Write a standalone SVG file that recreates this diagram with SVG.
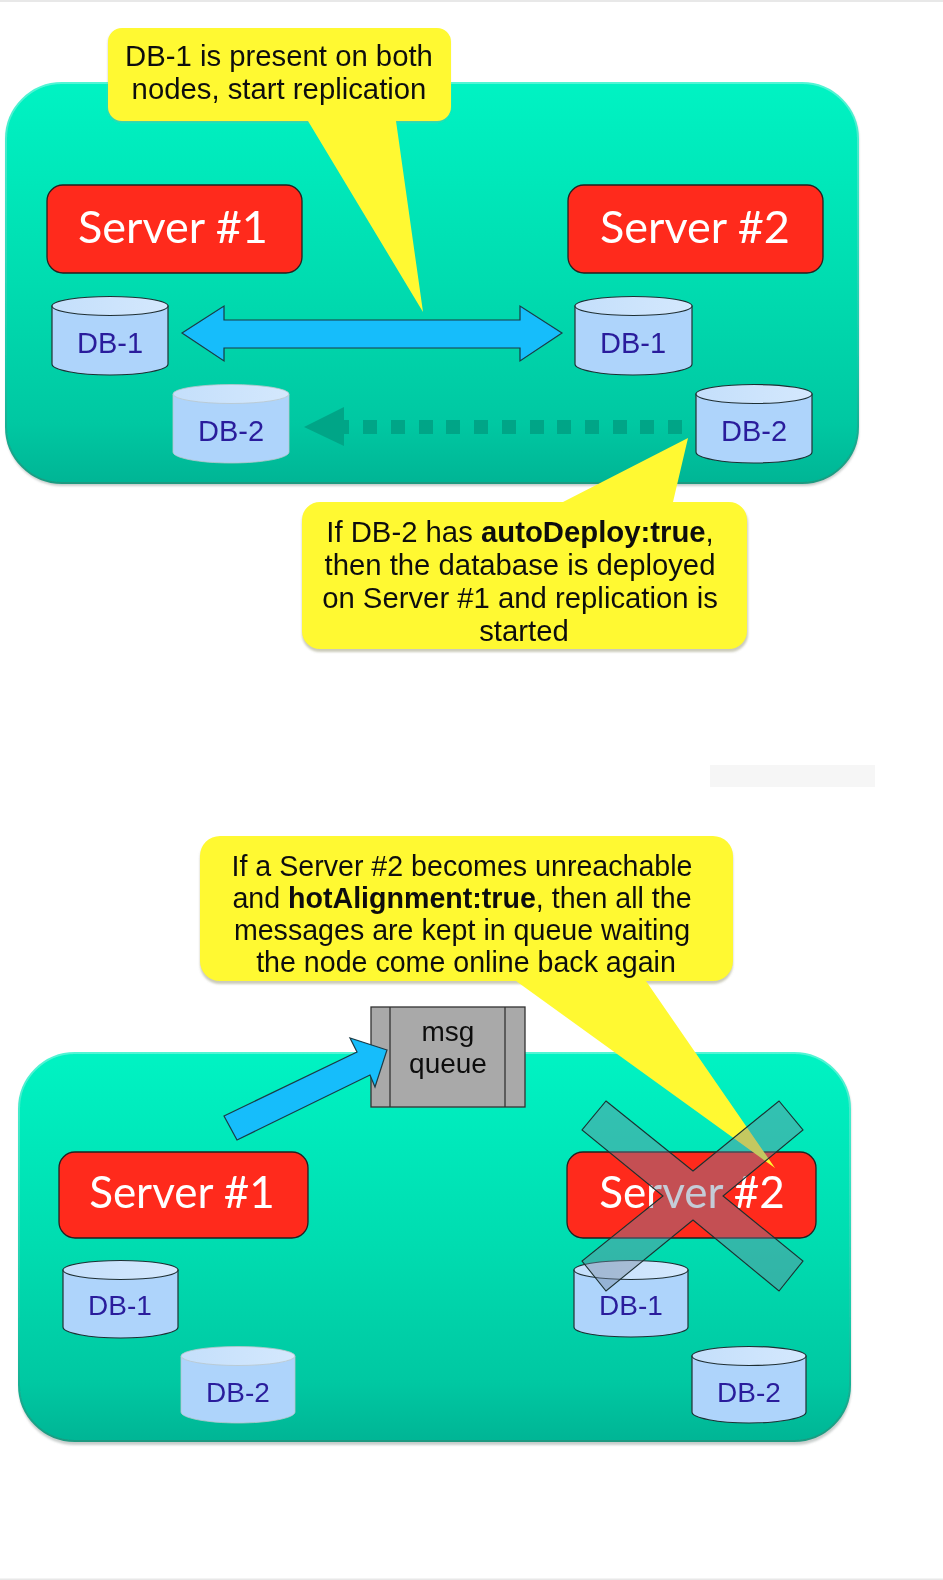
<svg xmlns="http://www.w3.org/2000/svg" width="943" height="1580" viewBox="0 0 943 1580">
<style>
.panel{fill:url(#panelGrad);stroke:url(#edgeGrad);stroke-width:2}
.panelshadow{fill:#9aa5a2;opacity:.55}
.server{fill:#ff2a1a;stroke:#222;stroke-width:1.3}
.servertext{font-family:"Lato","Open Sans",sans-serif;fill:#fff;text-anchor:middle}
.st{font-size:45px}
.sb{font-size:44px}
.cyl{fill:#aed4fb;stroke:#1f2f33;stroke-width:1.2}
.cyltop{fill:url(#topGrad);stroke:#1f2f33;stroke-width:1.2}
.ghost .cyl,.ghost .cyltop{stroke:#b9c6cc;stroke-width:.8}
.dbtext{font-family:"Liberation Sans",Arial,sans-serif;fill:#2a1f9c;text-anchor:middle}
.dt{font-size:29px}
.db{font-size:28px}
.call{fill:#fff933}
.callshadow{fill:#a8a88c;opacity:.6}
.calltext{font-family:"Liberation Sans",Arial,sans-serif;fill:#111;text-anchor:middle}
.ct{font-size:29.3px}
.cb{font-size:28.6px}
.b{font-weight:bold}
.blue{fill:#12bdfb;stroke:#1c3a45;stroke-width:1.2}
.dots{fill:#00a587}
.queue{fill:#a9a9a9;stroke:#333;stroke-width:1.3}
.qtext{font-family:"Liberation Sans",Arial,sans-serif;font-size:28px;fill:#111;text-anchor:middle}
</style>
<defs>
<linearGradient id="panelGrad" x1="0" y1="0" x2="0" y2="1"><stop offset="0" stop-color="#00f3c3"/><stop offset=".5" stop-color="#00dcb0"/><stop offset=".85" stop-color="#00c8a2"/><stop offset="1" stop-color="#00b595"/></linearGradient>
<linearGradient id="edgeGrad" x1="0" y1="0" x2="0" y2="1"><stop offset="0" stop-color="#52f5d5"/><stop offset=".7" stop-color="#18c8a8"/><stop offset="1" stop-color="#1a9a80"/></linearGradient>
<linearGradient id="topGrad" x1="0" y1="0" x2="1" y2="0"><stop offset="0" stop-color="#c4dffb"/><stop offset="1" stop-color="#d4e8fd"/></linearGradient>
<filter id="soft" x="-2%" y="-2%" width="104%" height="104%"><feGaussianBlur stdDeviation="0.6"/></filter>
<filter id="sh" x="-5%" y="-5%" width="110%" height="110%"><feGaussianBlur stdDeviation="1.2"/></filter>
</defs>
<rect width="943" height="1580" fill="#fff"/>
<g filter="url(#soft)">
<rect x="0" y="0" width="943" height="2" fill="#e8e8e8"/>
<rect x="0" y="1578.500" width="943" height="1.500" fill="#e8e8e8"/>
<rect x="710" y="765" width="165" height="22" fill="#f6f6f6"/>

<g id="panel-top">
<rect class="panelshadow" x="6" y="84" width="853" height="402" rx="56" filter="url(#sh)"/>
<rect class="panel" x="6" y="83" width="852" height="400" rx="56"/>
</g>
<g id="panel-bottom">
<rect class="panelshadow" x="19" y="1054" width="832" height="391" rx="56" filter="url(#sh)"/>
<rect class="panel" x="19" y="1053" width="831" height="388" rx="56"/>
</g>

<g id="server-1-top"><rect class="server" x="47" y="185" width="255" height="88" rx="16"/><text class="servertext st" x="173" y="243">Server #1</text></g>
<g id="server-2-top"><rect class="server" x="568" y="185" width="255" height="88" rx="16"/><text class="servertext st" x="695" y="243">Server #2</text></g>

<g id="db-1-left-top"><path class="cyl" d="M52 306V364C52 370 78 375 110 375S168 370 168 364V306Z"/><ellipse class="cyltop" cx="110" cy="306" rx="58" ry="9.500"/><text class="dbtext dt" x="110" y="353">DB-1</text></g>
<g id="db-1-right-top"><path class="cyl" d="M575 306V364C575 370 601 375 633 375S692 370 692 364V306Z"/><ellipse class="cyltop" cx="633.500" cy="306" rx="58.500" ry="9.500"/><text class="dbtext dt" x="633" y="353">DB-1</text></g>
<g id="db-2-left-top" class="ghost"><path class="cyl" d="M173 394V452C173 458 199 463 231 463S289 458 289 452V394Z"/><ellipse class="cyltop" cx="231" cy="394" rx="58" ry="9.500"/><text class="dbtext dt" x="231" y="441">DB-2</text></g>
<g id="db-2-right-top"><path class="cyl" d="M696 394V452C696 458 722 463 754 463S812 458 812 452V394Z"/><ellipse class="cyltop" cx="754" cy="394" rx="58" ry="9.500"/><text class="dbtext dt" x="754" y="441">DB-2</text></g>

<g id="server-1-bottom"><rect class="server" x="59" y="1152" width="249" height="86" rx="16"/><text class="servertext sb" x="182" y="1208">Server #1</text></g>
<g id="server-2-bottom"><rect class="server" x="567" y="1152" width="249" height="86" rx="16"/><text class="servertext sb" x="692" y="1208">Server #2</text></g>

<g id="db-1-left-bottom"><path class="cyl" d="M63 1270V1327C63 1333 89 1338 120.500 1338S178 1333 178 1327V1270Z"/><ellipse class="cyltop" cx="120.500" cy="1270" rx="57.500" ry="9.500"/><text class="dbtext db" x="120" y="1315">DB-1</text></g>
<g id="db-2-left-bottom" class="ghost"><path class="cyl" d="M181 1356V1412C181 1418 207 1423 238 1423S295 1418 295 1412V1356Z"/><ellipse class="cyltop" cx="238" cy="1356" rx="57" ry="9.500"/><text class="dbtext db" x="238" y="1402">DB-2</text></g>
<g id="db-1-right-bottom"><path class="cyl" d="M574 1270V1327C574 1333 600 1337 631 1337S688 1333 688 1327V1270Z"/><ellipse class="cyltop" cx="631" cy="1270" rx="57" ry="9.500"/><text class="dbtext db" x="631" y="1315">DB-1</text></g>
<g id="db-2-right-bottom"><path class="cyl" d="M692 1356V1412C692 1418 718 1423 749 1423S806 1418 806 1412V1356Z"/><ellipse class="cyltop" cx="749" cy="1356" rx="57" ry="9.500"/><text class="dbtext db" x="749" y="1402">DB-2</text></g>

<g id="msg-queue"><rect class="queue" x="371" y="1007" width="154" height="100"/><path class="queue" fill="none" d="M390 1007V1107M505 1007V1107"/><text class="qtext" x="448" y="1041">msg</text><text class="qtext" x="448" y="1073">queue</text></g>

<g id="connectors">
<path class="blue" d="M182 333L224 306V320H520V306L562 333L520 361V348H224V361Z"/>
<g class="dots">
<path d="M304 427L344 407V420H349V434H344V446Z"/>
<rect x="363" y="420" width="14" height="14"/><rect x="391" y="420" width="14" height="14"/><rect x="419" y="420" width="14" height="14"/><rect x="446" y="420" width="14" height="14"/><rect x="474" y="420" width="14" height="14"/><rect x="502" y="420" width="14" height="14"/><rect x="530" y="420" width="14" height="14"/><rect x="557" y="420" width="14" height="14"/><rect x="585" y="420" width="14" height="14"/><rect x="613" y="420" width="14" height="14"/><rect x="640" y="420" width="14" height="14"/><rect x="668" y="420" width="14" height="14"/>
</g>
<path class="blue" d="M387 1050L350 1038L357 1052L224 1116L237 1140L370 1075L375 1087Z"/>
</g>

<g id="callout-1">
<path class="callshadow" d="M122 30H436A14 14 0 0 1 450 44V108A14 14 0 0 1 436 122H122A14 14 0 0 1 108 108V44A14 14 0 0 1 122 30Z" filter="url(#sh)"/>
<path class="call" d="M122 28H437A14 14 0 0 1 451 42V107A14 14 0 0 1 437 121H396L423 312L308 121H122A14 14 0 0 1 108 107V42A14 14 0 0 1 122 28Z"/>
<text class="calltext ct" x="279" y="66">DB-1 is present on both</text>
<text class="calltext ct" x="279" y="99">nodes, start replication</text>
</g>

<g id="callout-2">
<rect class="callshadow" x="302" y="505" width="446" height="147" rx="18" filter="url(#sh)"/>
<path class="call" d="M320 502H563L688 438L673 502H729A18 18 0 0 1 747 520V631A18 18 0 0 1 729 649H320A18 18 0 0 1 302 631V520A18 18 0 0 1 320 502Z"/>
<text class="calltext ct" x="520" y="542">If DB-2 has <tspan class="b">autoDeploy:true</tspan>,</text>
<text class="calltext ct" x="520" y="575">then the database is deployed</text>
<text class="calltext ct" x="520" y="608">on Server #1 and replication is</text>
<text class="calltext ct" x="524" y="641">started</text>
</g>

<g id="callout-3">
<rect class="callshadow" x="200" y="839" width="533" height="145" rx="20" filter="url(#sh)"/>
<path class="call" d="M220 836H713A20 20 0 0 1 733 856V961A20 20 0 0 1 713 981H646L775 1168L516 981H220A20 20 0 0 1 200 961V856A20 20 0 0 1 220 836Z"/>
<text class="calltext cb" x="462" y="876">If a Server #2 becomes unreachable</text>
<text class="calltext cb" x="462" y="908">and <tspan class="b">hotAlignment:true</tspan>, then all the</text>
<text class="calltext cb" x="462" y="940">messages are kept in queue waiting</text>
<text class="calltext cb" x="466" y="972">the node come online back again</text>
</g>

<g id="cross-mark">
<path d="M606 1101L693 1171L779 1101L803 1130L723 1196L803 1261L779 1291L693 1220L606 1291L582 1261L663 1196L582 1130Z" fill="#7385a0" fill-opacity=".42" stroke="#1c3030" stroke-width="1.100"/>
</g>
</g>
</svg>
